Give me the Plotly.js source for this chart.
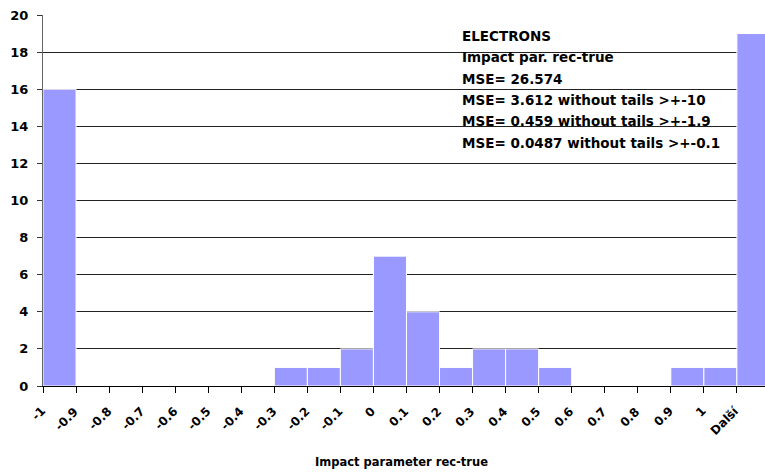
<!DOCTYPE html>
<html>
<head>
<meta charset="utf-8">
<script src="https://cdn.plot.ly/plotly-3.0.1.min.js"></script>
<style>html,body{margin:0;padding:0;background:#fff;}#chart{width:765px;height:475px;}</style>
</head>
<body>
<div id="chart"></div>
<script>
// Bin labels (upper edges) as shown on the category axis
const binLabels = ['-1','-0.9','-0.8','-0.7','-0.6','-0.5','-0.4','-0.3','-0.2','-0.1','0','0.1','0.2','0.3','0.4','0.5','0.6','0.7','0.8','0.9','1','Další'];
// Frequencies per bin
const binCounts = [16,0,0,0,0,0,0,1,1,2,7,4,1,2,2,1,0,0,0,1,1,19];
// Statistics text block
const statLines = [
  'ELECTRONS',
  'Impact par. rec-true',
  'MSE= 26.574',
  'MSE= 3.612 without tails >+-10',
  'MSE= 0.459 without tails >+-1.9',
  'MSE= 0.0487 without tails >+-0.1'
];
const xTitle = 'Impact parameter rec-true';
const yTicks = [0,2,4,6,8,10,12,14,16,18,20];

const binPos = binLabels.map((_, i) => i);
const FONT = '"DejaVu Sans", Verdana, sans-serif';

const plotTop = 15, plotBottom = 386;
const plotH = plotBottom - plotTop;
const pyToPaper = py => (plotBottom - py) / plotH;
const unitPx = 722 / 21.85;

const annotations = statLines.map((t, i) => ({
  text: t, xref: 'paper', yref: 'paper',
  x: (460 - 43) / 722, y: pyToPaper(35.5 + i * 21.5),
  xanchor: 'left', yanchor: 'middle', showarrow: false,
  font: {family: FONT, size: 13.5, color: '#000', weight: 'bold'}
}));
annotations.push({
  text: xTitle, xref: 'paper', yref: 'paper',
  x: (401 - 43) / 722, y: pyToPaper(462),
  xanchor: 'center', yanchor: 'middle', showarrow: false,
  font: {family: FONT, size: 11.5, color: '#000', weight: 'bold'}
});
// rotated category labels, ending just right of each tick
binLabels.forEach((lab, i) => {
  annotations.push({
    text: lab, xref: 'x', yref: 'paper',
    x: binPos[i] + 6 / unitPx, y: pyToPaper(403),
    xanchor: 'right', yanchor: 'top', textangle: -45,
    showarrow: false, borderpad: 0,
    font: {family: FONT, size: 12, color: '#000', weight: 'bold'}
  });
});

const trace = {
  type: 'bar',
  x: binPos,
  y: binCounts,
  offset: 0,
  width: 1,
  marker: {color: '#9999FF', line: {color: '#ffffff', width: 1}},
  hoverinfo: 'skip'
};

const layout = {
  width: 765, height: 475,
  margin: {l: 43, r: 0, t: plotTop, b: 475 - plotBottom, pad: 0},
  paper_bgcolor: '#fff', plot_bgcolor: '#fff',
  showlegend: false,
  bargap: 0,
  font: {family: FONT, color: '#000'},
  xaxis: {
    type: 'linear',
    range: [0, 21.85],
    tickmode: 'array', tickvals: binPos, ticktext: binLabels,
    showticklabels: false,
    ticks: 'outside', ticklen: 6, tickcolor: '#000', tickwidth: 1,
    showline: true, linecolor: '#000', linewidth: 1,
    showgrid: false, zeroline: false, fixedrange: true
  },
  yaxis: {
    range: [0, 20],
    tickmode: 'array', tickvals: yTicks,
    tickfont: {family: FONT, size: 13, color: '#000', weight: 'bold'},
    ticks: 'outside', ticklen: 5, tickcolor: '#333', tickwidth: 1,
    ticklabelstandoff: 6,
    showline: true, linecolor: '#666', linewidth: 1,
    showgrid: true, gridcolor: '#222', gridwidth: 1,
    zeroline: false, fixedrange: true
  },
  annotations: annotations
};

Plotly.newPlot('chart', [trace], layout, {staticPlot: true, displayModeBar: false});
</script>
</body>
</html>
